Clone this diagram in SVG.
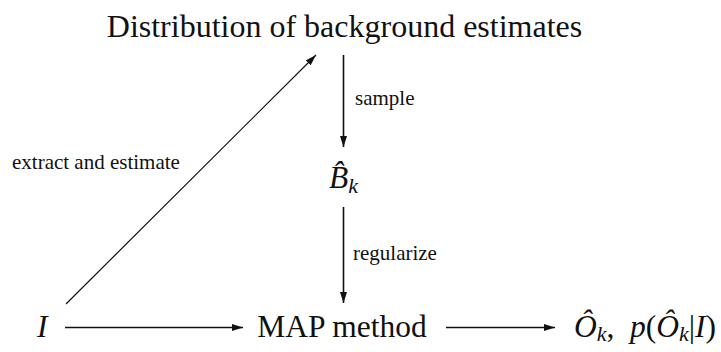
<svg xmlns="http://www.w3.org/2000/svg" width="721" height="352" viewBox="0 0 721 352">
<style>
text{font-family:"Liberation Serif","Times New Roman",serif;fill:#111}
.big{font-size:31.5px}
.title{font-size:32px}
.lab{font-size:21px}
.it{font-style:italic}
.sub{font-size:22px;font-style:italic}
.ln{stroke:#111;fill:none}
</style>
<defs>
<marker id="ah" markerUnits="userSpaceOnUse" markerWidth="12" markerHeight="8" refX="11" refY="4" orient="auto">
<path d="M0,0.5 L11,4 L0,7.5 Z" fill="#111"/>
</marker>
</defs>
<g id="connectors">
<line class="ln" x1="66" y1="304" x2="316" y2="55" stroke-width="1.2" marker-end="url(#ah)"/>
<line class="ln" x1="343.5" y1="55" x2="343.5" y2="147" stroke-width="1.6" marker-end="url(#ah)"/>
<line class="ln" x1="343.5" y1="207" x2="343.5" y2="303" stroke-width="1.6" marker-end="url(#ah)"/>
<line class="ln" x1="65" y1="327.5" x2="243" y2="327.5" stroke-width="1.6" marker-end="url(#ah)"/>
<line class="ln" x1="446" y1="327.5" x2="555" y2="327.5" stroke-width="1.6" marker-end="url(#ah)"/>
</g>
<g id="lbl-extract"><text class="lab" x="12" y="169">extract and estimate</text></g>
<g id="lbl-sample"><text class="lab" x="355" y="105">sample</text></g>
<g id="lbl-regularize"><text class="lab" x="353" y="260">regularize</text></g>
<g id="n-dist"><text class="title" x="344.5" y="37" text-anchor="middle">Distribution of background estimates</text></g>
<g id="n-B"><text class="big it" x="329" y="188">B̂<tspan class="sub" dy="5">k</tspan></text></g>
<g id="n-I"><text class="big it" x="37" y="337">I</text></g>
<g id="n-MAP"><text class="big" x="342" y="337" text-anchor="middle">MAP method</text></g>
<g id="n-O">
<text class="big" x="574" y="337"><tspan class="it">Ô</tspan><tspan class="sub" dy="4">k</tspan><tspan dy="-4">,</tspan></text>
<text class="big" x="716" y="337" text-anchor="end"><tspan class="it">p</tspan>(<tspan class="it">Ô</tspan><tspan class="sub" dy="4">k</tspan><tspan dy="-4">|</tspan><tspan class="it">I</tspan>)</text>
</g>
</svg>
